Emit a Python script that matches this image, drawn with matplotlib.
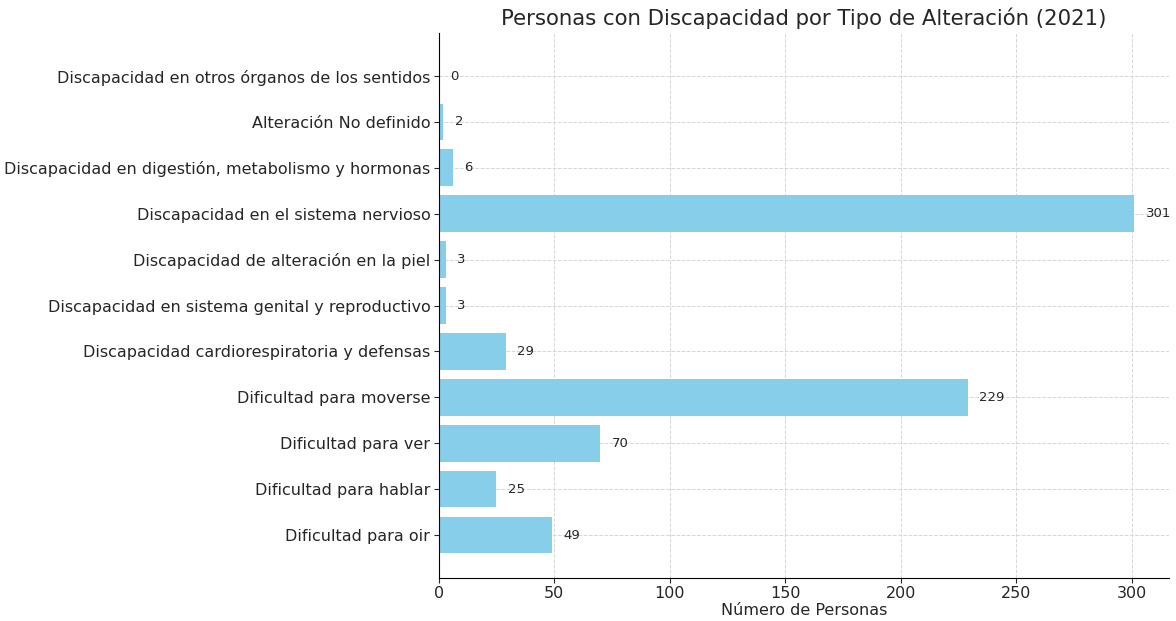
import matplotlib.pyplot as plt

categorias = [
    'Dificultad para oir',
    'Dificultad para hablar',
    'Dificultad para ver',
    'Dificultad para moverse',
    'Discapacidad cardiorespiratoria y defensas',
    'Discapacidad en sistema genital y reproductivo',
    'Discapacidad de alteración en la piel',
    'Discapacidad en el sistema nervioso',
    'Discapacidad en digestión, metabolismo y hormonas',
    'Alteración No definido',
    'Discapacidad en otros órganos de los sentidos',
]
personas = [49, 25, 70, 229, 29, 3, 3, 301, 6, 2, 0]

text_color = '#262626'

fig = plt.figure(figsize=(11.76, 6.21), dpi=100)
ax = fig.add_axes([0.373, 0.069, 0.621, 0.878])

ax.barh(categorias, personas, color='skyblue', height=0.8, zorder=2)
for i, v in enumerate(personas):
    ax.text(v + 5, i, str(v), va='center', ha='left', fontsize=9.5, color=text_color)

ax.set_title('Personas con Discapacidad por Tipo de Alteración (2021)',
             fontsize=15.3, color=text_color)
ax.set_xlabel('Número de Personas', fontsize=11.5, color=text_color, labelpad=1)
ax.tick_params(axis='both', labelsize=11.5, colors=text_color, length=3.5, pad=2.5)
ax.grid(True, linestyle='--', color='#d6d6d6', linewidth=0.7, zorder=0)
ax.set_axisbelow(True)
ax.spines['top'].set_visible(False)
ax.spines['right'].set_visible(False)

fig.savefig('out.png', dpi=100)
plt.close()
